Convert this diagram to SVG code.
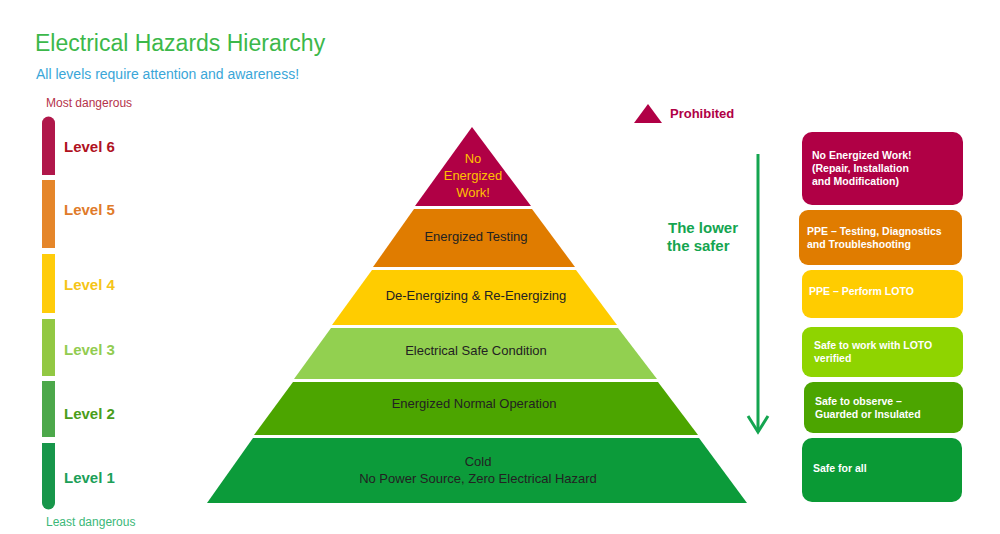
<svg xmlns="http://www.w3.org/2000/svg" width="1000" height="534" viewBox="0 0 1000 534">
<style>
text{font-family:"Liberation Sans",Arial,sans-serif}
.lv{font-size:15px;font-weight:bold}
.pt{font-size:13px;fill:#222;text-anchor:middle}
.bt{font-size:10.5px;font-weight:bold;fill:#fff}
</style>
<rect width="1000" height="534" fill="#fff"/>
<text x="35" y="51" font-size="23" fill="#3cb84a">Electrical Hazards Hierarchy</text>
<text x="36" y="79" font-size="14" fill="#3aa6d8">All levels require attention and awareness!</text>
<g id="scale">
<text x="46" y="107" font-size="12" fill="#b5324a">Most dangerous</text>
<path d="M42,123 a6.5,6.5 0 0 1 13,0 V175 H42Z" fill="#b0174a"/>
<rect x="42" y="180" width="13" height="68" fill="#e5862a"/>
<rect x="42" y="254" width="13" height="59" fill="#ffcc0a"/>
<rect x="42" y="319" width="13" height="57" fill="#92c843"/>
<rect x="42" y="381" width="13" height="56" fill="#4ca84a"/>
<path d="M42,443 H55 V503 a6.5,6.5 0 0 1 -13,0Z" fill="#17964a"/>
<text x="64" y="152" class="lv" fill="#b0121f">Level 6</text>
<text x="64" y="215" class="lv" fill="#e07b2a">Level 5</text>
<text x="64" y="290" class="lv" fill="#f5c518">Level 4</text>
<text x="64" y="355" class="lv" fill="#92cc50">Level 3</text>
<text x="64" y="419" class="lv" fill="#4a9e1a">Level 2</text>
<text x="64" y="483" class="lv" fill="#1ca058">Level 1</text>
<text x="46" y="526" font-size="12" fill="#3cb878">Least dangerous</text>
</g>
<g id="pyramid">
<polygon points="472,127 531,206 415,206" fill="#b00045"/>
<polygon points="414,209 532,209 575,267 373,267" fill="#e07c00"/>
<polygon points="372,270 576,270 617,325 332,325" fill="#ffcc00"/>
<polygon points="331,328 618,328 657,379 294,379" fill="#92d050"/>
<polygon points="293,382 658,382 698,435 254,435" fill="#4ca500"/>
<polygon points="253,438 699,438 747,503 207,503" fill="#0c9b3a"/>
<text x="473" y="163" font-size="13" fill="#ffc000" text-anchor="middle">No</text>
<text x="473" y="180" font-size="13" fill="#ffc000" text-anchor="middle">Energized</text>
<text x="473" y="197" font-size="13" fill="#ffc000" text-anchor="middle">Work!</text>
<text x="476" y="241" class="pt">Energized Testing</text>
<text x="476" y="300" class="pt">De-Energizing &amp; Re-Energizing</text>
<text x="476" y="355" class="pt">Electrical Safe Condition</text>
<text x="474" y="408" class="pt">Energized Normal Operation</text>
<text x="478" y="466" class="pt">Cold</text>
<text x="478" y="483" class="pt">No Power Source,  Zero Electrical Hazard</text>
</g>
<g id="legend">
<polygon points="634,123 648,104 662,123" fill="#b00045"/>
<text x="670" y="118" font-size="13" font-weight="bold" fill="#b00045">Prohibited</text>
</g>
<g id="connectors">
<text x="668" y="233" font-size="15" font-weight="bold" fill="#14a550">The lower</text>
<text x="667" y="251" font-size="15" font-weight="bold" fill="#14a550">the safer</text>
<line x1="758" y1="154" x2="758" y2="432" stroke="#14a550" stroke-width="3"/>
<polyline points="748,416 758,432 768,416" fill="none" stroke="#14a550" stroke-width="3"/>
</g>
<g id="boxes">
<rect x="802" y="132" width="161" height="73" rx="10" fill="#b00045"/>
<text class="bt"><tspan x="812" y="159">No Energized Work!</tspan><tspan x="812" y="172">(Repair, Installation</tspan><tspan x="812" y="185">and Modification)</tspan></text>
<rect x="799" y="210" width="163" height="55" rx="9" fill="#e07c00"/>
<text class="bt"><tspan x="807" y="235">PPE – Testing, Diagnostics</tspan><tspan x="807" y="248">and Troubleshooting</tspan></text>
<rect x="802" y="270" width="161" height="48" rx="9" fill="#ffcc00"/>
<text class="bt" x="809" y="295">PPE – Perform LOTO</text>
<rect x="802" y="327" width="161" height="50" rx="9" fill="#8fd400"/>
<text class="bt"><tspan x="814" y="349">Safe to work with LOTO</tspan><tspan x="814" y="362">verified</tspan></text>
<rect x="804" y="382" width="159" height="51" rx="9" fill="#4ca500"/>
<text class="bt"><tspan x="815" y="405">Safe to observe –</tspan><tspan x="815" y="418">Guarded or Insulated</tspan></text>
<rect x="802" y="438" width="160" height="64" rx="10" fill="#0a9a35"/>
<text class="bt" x="813" y="472">Safe for all</text>
</g>
</svg>
